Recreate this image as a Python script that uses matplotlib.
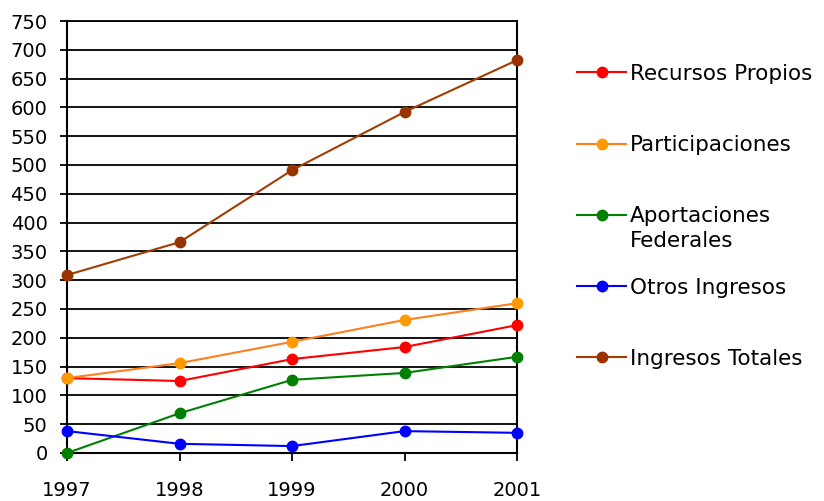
import matplotlib.pyplot as plt
from matplotlib.lines import Line2D

years = [1997, 1998, 1999, 2000, 2001]

recursos_propios = [130, 125, 163, 184, 222]
participaciones = [130, 156, 193, 231, 260]
aportaciones = [0, 69, 127, 139, 167]
otros_ingresos = [38, 16, 12, 38, 35]
ingresos_totales = [309, 366, 491, 592, 682]

labels = ["Recursos Propios", "Participaciones", "Aportaciones",
          "Otros Ingresos", "Ingresos Totales"]
colors = ["#ff0000", "#ff9900", "#008000", "#0000ff", "#993300"]
line_colors = ["#ff0000", "#ff7f1e", "#008000", "#0000ff", "#a33c00"]
series = [recursos_propios, participaciones, aportaciones,
          otros_ingresos, ingresos_totales]

plt.rcParams['font.family'] = ['DejaVu Sans']

fig = plt.figure(figsize=(8.24, 5.01), dpi=100)
ax = fig.add_axes([67 / 824, 48 / 501, 450 / 824, 432 / 501])

# grid first so lines sit on top
ax.set_ylim(0, 750)
ax.set_xlim(1997, 2001)
ax.set_yticks(range(0, 751, 50))
ax.set_xticks(years)
ax.yaxis.grid(True, color="black", linewidth=1.3)
ax.set_axisbelow(True)

handles = []
for vals, c, lc, lab in zip(series, colors, line_colors, labels):
    ax.plot(years, vals, color=lc, linewidth=1.5, marker="o",
            markersize=7.5, markerfacecolor=c, markeredgecolor=c,
            clip_on=False, zorder=3)
    handles.append(Line2D([], [], color=lc, linewidth=1.5, marker="o",
                          markersize=7.5, markerfacecolor=c,
                          markeredgecolor=c))

for s in ax.spines.values():
    s.set_color("black")
    s.set_linewidth(1.5)
ax.spines["top"].set_linewidth(1.3)

ax.tick_params(axis="y", length=5, width=1.3, pad=9, labelsize=14)
ax.tick_params(axis="x", length=6, width=1.3, pad=14, labelsize=14)

leg = fig.legend(handles, labels, loc="upper left",
                 bbox_to_anchor=(577 / 824, 1 - 64 / 501),
                 frameon=False, fontsize=15.5, handlelength=2.28,
                 handletextpad=0.19, labelspacing=2.38,
                 borderaxespad=0, borderpad=0)

# second line of the green entry, the marker stays on the first line
fig.text(630 / 824, 1 - 241 / 501, "Federales", fontsize=15.5,
         va="center", ha="left")

fig.savefig("out.png", dpi=100)
